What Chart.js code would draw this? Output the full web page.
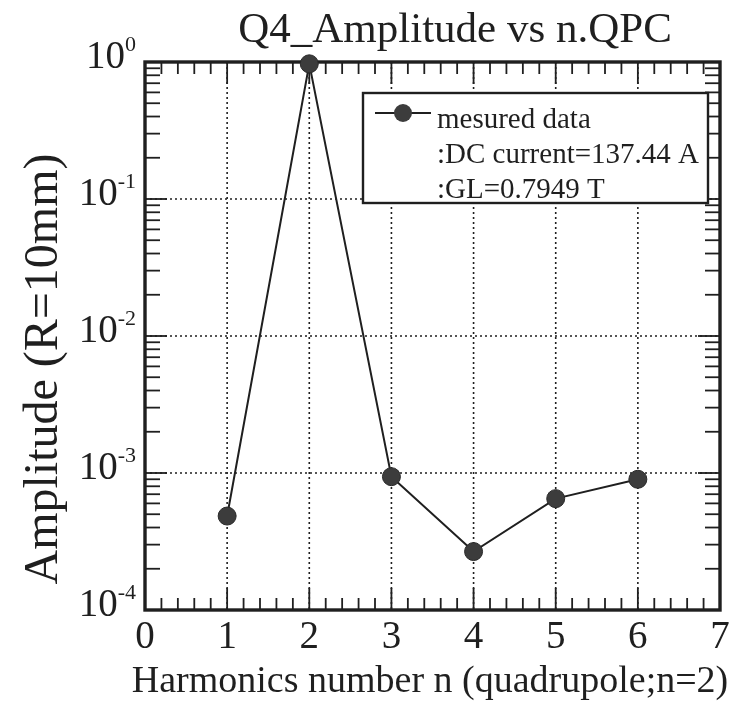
<!DOCTYPE html>
<html><head><meta charset="utf-8">
<script src="https://cdn.jsdelivr.net/npm/chart.js@4/dist/chart.umd.min.js"></script>
<style>html,body{margin:0;padding:0;background:#fff;}#wrap{width:734px;height:703px;}</style>
</head><body><div id="wrap"><canvas id="c" width="734" height="703"></canvas></div>
<script>
const harmonics = [1, 2, 3, 4, 5, 6];
const amplitude = [4.85e-4, 0.97, 9.4e-4, 2.67e-4, 6.5e-4, 9.0e-4];
const xTicks = [0, 1, 2, 3, 4, 5, 6, 7];
const yDecades = [0, -1, -2, -3, -4];
const titleText = 'Q4_Amplitude vs n.QPC';
const xTitle = 'Harmonics number n (quadrupole;n=2)';
const yTitle = 'Amplitude (R=10mm)';
const legendLines = ['mesured data', ':DC current=137.44 A', ':GL=0.7949 T'];

const FONT = "'Liberation Serif', 'Times New Roman', serif";
const INK = '#1f1f1f';

const points = harmonics.map((n, i) => ({x: n, y: amplitude[i]}));

function seg(ctx, x1, y1, x2, y2){ ctx.beginPath(); ctx.moveTo(x1, y1); ctx.lineTo(x2, y2); ctx.stroke(); }

const framePlugin = {
  id: 'frame',
  beforeDatasetsDraw(chart){
    const {ctx, chartArea: a, scales: {x, y}} = chart;
    ctx.save();
    ctx.strokeStyle = INK; ctx.lineWidth = 1.6; ctx.setLineDash([2, 3]);
    xTicks.forEach(v => { if (v > x.min && v < x.max) { const p = x.getPixelForValue(v); seg(ctx, p, a.top, p, a.bottom); } });
    yDecades.forEach(e => { const v = Math.pow(10, e); if (v > y.min && v < y.max) { const p = y.getPixelForValue(v); seg(ctx, a.left, p, a.right, p); } });
    ctx.setLineDash([]);
    ctx.lineWidth = 1.8;
    const nx = Math.round((x.max - x.min) * 5);
    for (let i = 1; i < nx; i++) {
      const v = x.min + i / 5; const p = x.getPixelForValue(v);
      const len = (i % 5 === 0) ? 22 : 12;
      seg(ctx, p, a.bottom, p, a.bottom - len);
      seg(ctx, p, a.top, p, a.top + len);
    }
    for (let d = -4; d < 0; d++) {
      for (let m = 1; m <= 9; m++) {
        const v = m * Math.pow(10, d);
        if (v <= y.min || v >= y.max) continue;
        const p = y.getPixelForValue(v);
        const len = (m === 1) ? 22 : 15;
        seg(ctx, a.left, p, a.left + len, p);
        seg(ctx, a.right, p, a.right - len, p);
      }
    }
    ctx.lineWidth = 3.4;
    ctx.strokeRect(a.left, a.top, a.right - a.left, a.bottom - a.top);
    ctx.restore();
  },
  afterDraw(chart){
    const {ctx, chartArea: a, scales: {y}} = chart;
    ctx.save();
    ctx.fillStyle = INK;
    ctx.textAlign = 'center'; ctx.textBaseline = 'alphabetic';
    ctx.font = '43px ' + FONT;
    ctx.fillText(titleText, 455, 42);
    ctx.font = '38px ' + FONT;
    ctx.fillText(xTitle, 430, 692);
    const right = a.left - 9;
    yDecades.forEach(e => {
      const p = y.getPixelForValue(Math.pow(10, e));
      const sup = e === 0 ? '0' : '-' + Math.abs(e);
      ctx.font = '22px ' + FONT; const w2 = ctx.measureText(sup).width;
      ctx.font = '39px ' + FONT; const w1 = ctx.measureText('10').width;
      ctx.textAlign = 'left'; ctx.textBaseline = 'alphabetic';
      ctx.fillText('10', right - w2 - w1, p + 6);
      ctx.font = '22px ' + FONT;
      ctx.fillText(sup, right - w2, p - 11);
    });
    ctx.save();
    ctx.translate(44, (a.top + a.bottom) / 2 + 33);
    ctx.rotate(-Math.PI / 2);
    ctx.font = '48px ' + FONT; ctx.textAlign = 'center'; ctx.textBaseline = 'middle';
    ctx.fillText(yTitle, 0, 0);
    ctx.restore();
    const bx = 363, by = 93, bw = 345, bh = 110;
    ctx.fillStyle = '#fff'; ctx.fillRect(bx, by, bw, bh);
    ctx.strokeStyle = INK; ctx.lineWidth = 2.4; ctx.strokeRect(bx, by, bw, bh);
    ctx.lineWidth = 2; seg(ctx, bx + 12, by + 20, bx + 68, by + 20);
    ctx.fillStyle = '#3c3c3c'; ctx.beginPath(); ctx.arc(bx + 40, by + 20, 9, 0, Math.PI * 2); ctx.fill();
    ctx.fillStyle = INK; ctx.font = '29px ' + FONT; ctx.textAlign = 'left'; ctx.textBaseline = 'alphabetic';
    legendLines.forEach((t, i) => ctx.fillText(t, bx + 74, by + 35 + i * 35));
    ctx.restore();
  }
};

new Chart(document.getElementById('c'), {
  type: 'scatter',
  data: {
    datasets: [{
      label: legendLines[0],
      data: points,
      showLine: true,
      borderColor: INK,
      borderWidth: 2,
      backgroundColor: '#3c3c3c',
      pointBackgroundColor: '#3c3c3c',
      pointBorderColor: '#2a2a2a',
      pointBorderWidth: 1,
      pointRadius: 9,
      clip: false
    }]
  },
  options: {
    responsive: false,
    animation: false,
    devicePixelRatio: 1,
    layout: {padding: {left: 0, right: 14, top: 62, bottom: 0}},
    plugins: {
      legend: {display: false},
      tooltip: {enabled: false},
      title: {display: false}
    },
    scales: {
      x: {
        type: 'linear', position: 'bottom', min: 0, max: 7,
        grid: {display: false, drawTicks: false},
        border: {display: false},
        ticks: {stepSize: 1, autoSkip: false, maxRotation: 0, color: INK, padding: 4,
                font: {family: FONT, size: 39}},
        title: {display: false},
        afterFit(s){ s.height = 93; }
      },
      y: {
        type: 'logarithmic', min: 1e-4, max: 1,
        grid: {display: false, drawTicks: false},
        border: {display: false},
        ticks: {display: false},
        afterFit(s){ s.width = 145; }
      }
    }
  },
  plugins: [framePlugin]
});
</script>
</body></html>
